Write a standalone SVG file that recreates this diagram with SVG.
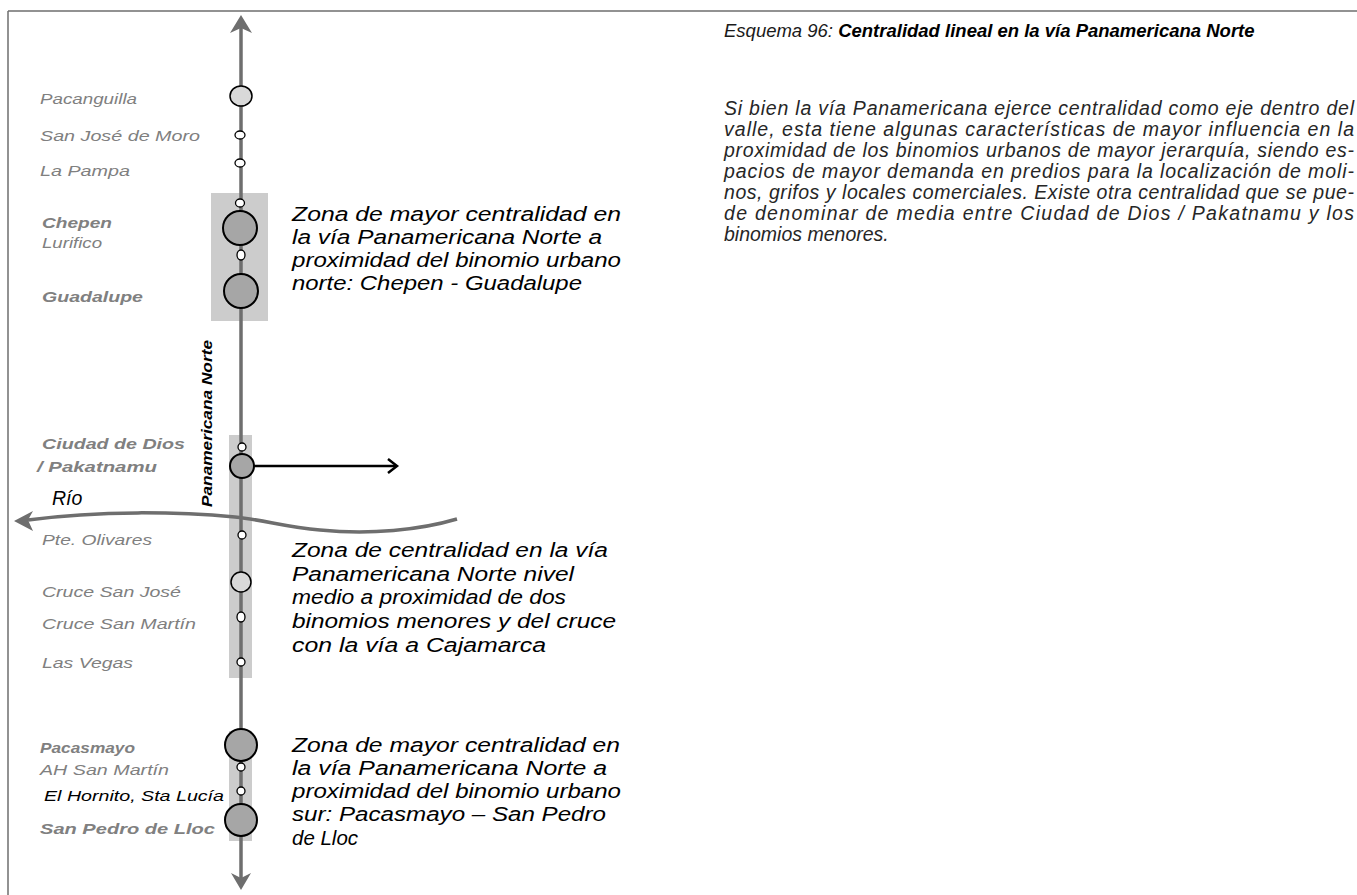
<svg xmlns="http://www.w3.org/2000/svg" width="1357" height="895" viewBox="0 0 1357 895">
<style>
.frame{stroke:#6e6e6e;stroke-width:1.5;fill:none}
.zonebox{fill:#cccccc}
.axis{stroke:#6e6e6e;stroke-width:3.5;fill:none}
.axhead{fill:#6e6e6e}
.big{fill:#a6a6a6;stroke:#000;stroke-width:2}
.mid{fill:#d9d9d9;stroke:#000;stroke-width:1.5}
.sm{fill:#ffffff;stroke:#000;stroke-width:1.3}
.lbl{font-family:"Liberation Sans",Arial,sans-serif;font-style:italic;font-size:14.5px;fill:#808080}
.b{font-weight:bold}
.blk{fill:#000}
.zone{font-family:"Liberation Sans",Arial,sans-serif;font-style:italic;font-size:19.5px;fill:#000}
.road{font-family:"Liberation Sans",Arial,sans-serif;font-style:italic;font-weight:bold;font-size:14px;fill:#000}
.title{font-family:"Liberation Sans",Arial,sans-serif;font-style:italic;font-size:18.5px;fill:#1a1a1a}
.para{font-family:"Liberation Sans",Arial,sans-serif;font-style:italic;font-size:19.5px;fill:#262626}
</style>

<g id="frame">
<line class="frame" x1="8" y1="11" x2="1357" y2="11"/>
<line class="frame" x1="8" y1="11" x2="8" y2="895"/>
</g>

<g id="zones">
<rect class="zonebox" x="211" y="193" width="57" height="128"/>
<rect class="zonebox" x="229" y="435" width="23" height="243"/>
<rect class="zonebox" x="229" y="731" width="23" height="110"/>
</g>

<g id="connectors">
<line class="axis" x1="241" y1="24" x2="241" y2="882"/>
<polygon class="axhead" points="241,15 252,33 241,28 230,33"/>
<polygon class="axhead" points="241,890 251,873 241,878 231,873"/>
<path class="axis" stroke-width="4" d="M457,519 C420,530 370,535 320,530 C285,527 265,520 235,517 C180,512 100,510 28,520"/>
<polygon class="axhead" points="14,521 33,511 28,520 33,531"/>
<line x1="254" y1="466" x2="396" y2="466" stroke="#000" stroke-width="2.5"/>
<polyline points="388,459 397,466 388,473" fill="none" stroke="#000" stroke-width="2.5"/>
</g>

<g id="road-label">
<text class="road" transform="translate(212,507) rotate(-90)" textLength="167" lengthAdjust="spacingAndGlyphs">Panamericana Norte</text>
</g>

<g id="pacanguilla"><ellipse class="mid" cx="241" cy="96" rx="11" ry="10"/><text class="lbl" x="40" y="104" textLength="97" lengthAdjust="spacingAndGlyphs">Pacanguilla</text></g>
<g id="san-jose-de-moro"><ellipse class="sm" cx="240" cy="135" rx="5" ry="4"/><text class="lbl" x="40" y="141" textLength="160" lengthAdjust="spacingAndGlyphs">San José de Moro</text></g>
<g id="la-pampa"><ellipse class="sm" cx="240" cy="163" rx="5" ry="4"/><text class="lbl" x="40" y="176" textLength="90" lengthAdjust="spacingAndGlyphs">La Pampa</text></g>
<g id="node-203"><ellipse class="sm" cx="240" cy="203" rx="4.5" ry="4"/></g>
<g id="chepen"><circle class="big" cx="240" cy="228" r="17"/><text class="lbl b" x="42" y="228" textLength="70" lengthAdjust="spacingAndGlyphs">Chepen</text></g>
<g id="lurifico"><ellipse class="sm" cx="241" cy="255" rx="4" ry="5"/><text class="lbl" x="42" y="248" textLength="60" lengthAdjust="spacingAndGlyphs">Lurifico</text></g>
<g id="guadalupe"><circle class="big" cx="241" cy="291" r="17"/><text class="lbl b" x="42" y="302" textLength="101" lengthAdjust="spacingAndGlyphs">Guadalupe</text></g>

<g id="node-447"><circle class="sm" cx="242" cy="447" r="4"/></g>
<g id="ciudad-de-dios"><circle class="big" cx="242" cy="466" r="12" stroke-width="4"/><text class="lbl b" x="42" y="449" textLength="143" lengthAdjust="spacingAndGlyphs">Ciudad de Dios</text><text class="lbl b" x="37" y="472" textLength="120" lengthAdjust="spacingAndGlyphs">/ Pakatnamu</text></g>
<g id="rio"><text class="zone" font-size="17" x="52" y="505">Río</text></g>
<g id="pte-olivares"><circle class="sm" cx="242" cy="535" r="4"/><text class="lbl" x="42" y="545" textLength="110" lengthAdjust="spacingAndGlyphs">Pte. Olivares</text></g>
<g id="cruce-san-jose"><circle class="mid" cx="241" cy="582" r="10"/><text class="lbl" x="42" y="597" textLength="139" lengthAdjust="spacingAndGlyphs">Cruce San José</text></g>
<g id="cruce-san-martin"><ellipse class="sm" cx="241" cy="617" rx="4" ry="5"/><text class="lbl" x="42" y="629" textLength="154" lengthAdjust="spacingAndGlyphs">Cruce San Martín</text></g>
<g id="las-vegas"><circle class="sm" cx="241" cy="662" r="4"/><text class="lbl" x="42" y="668" textLength="91" lengthAdjust="spacingAndGlyphs">Las Vegas</text></g>

<g id="pacasmayo"><circle class="big" cx="241" cy="745" r="16"/><text class="lbl b" x="40" y="753" textLength="95" lengthAdjust="spacingAndGlyphs">Pacasmayo</text></g>
<g id="ah-san-martin"><circle class="sm" cx="241" cy="767" r="4"/><text class="lbl" x="40" y="775" textLength="129" lengthAdjust="spacingAndGlyphs">AH San Martín</text></g>
<g id="el-hornito"><circle class="sm" cx="241" cy="791" r="4"/><text class="lbl blk" x="44" y="801" textLength="180" lengthAdjust="spacingAndGlyphs">El Hornito, Sta Lucía</text></g>
<g id="san-pedro-de-lloc"><circle class="big" cx="241" cy="820" r="16"/><text class="lbl b" x="40" y="834" textLength="175" lengthAdjust="spacingAndGlyphs">San Pedro de Lloc</text></g>

<g id="zone-note-1">
<text class="zone" x="292" y="221" textLength="329" lengthAdjust="spacingAndGlyphs">Zona de mayor centralidad en</text>
<text class="zone" x="292" y="244" textLength="310" lengthAdjust="spacingAndGlyphs">la vía Panamericana Norte a</text>
<text class="zone" x="292" y="267" textLength="329" lengthAdjust="spacingAndGlyphs">proximidad del binomio urbano</text>
<text class="zone" x="292" y="290" textLength="290" lengthAdjust="spacingAndGlyphs">norte: Chepen - Guadalupe</text>
</g>
<g id="zone-note-2">
<text class="zone" x="292" y="557" textLength="316" lengthAdjust="spacingAndGlyphs">Zona de centralidad en la vía</text>
<text class="zone" x="292" y="581" textLength="282" lengthAdjust="spacingAndGlyphs">Panamericana Norte nivel</text>
<text class="zone" x="292" y="604" textLength="274" lengthAdjust="spacingAndGlyphs">medio a proximidad de dos</text>
<text class="zone" x="292" y="628" textLength="324" lengthAdjust="spacingAndGlyphs">binomios menores y del cruce</text>
<text class="zone" x="292" y="652" textLength="254" lengthAdjust="spacingAndGlyphs">con la vía a Cajamarca</text>
</g>
<g id="zone-note-3">
<text class="zone" x="292" y="752" textLength="328" lengthAdjust="spacingAndGlyphs">Zona de mayor centralidad en</text>
<text class="zone" x="292" y="775" textLength="315" lengthAdjust="spacingAndGlyphs">la vía Panamericana Norte a</text>
<text class="zone" x="292" y="798" textLength="329" lengthAdjust="spacingAndGlyphs">proximidad del binomio urbano</text>
<text class="zone" x="292" y="821" textLength="314" lengthAdjust="spacingAndGlyphs">sur: Pacasmayo – San Pedro</text>
<text class="zone" x="292" y="845" textLength="66" lengthAdjust="spacingAndGlyphs">de Lloc</text>
</g>

<g id="caption">
<text class="title" x="724" y="37">Esquema 96: <tspan font-weight="bold" fill="#000">Centralidad lineal en la vía Panamericana Norte</tspan></text>
<text class="para" x="724" y="115" textLength="630" lengthAdjust="spacing">Si bien la vía Panamericana ejerce centralidad como eje dentro del</text>
<text class="para" x="724" y="136" textLength="630" lengthAdjust="spacing">valle, esta tiene algunas características de mayor influencia en la</text>
<text class="para" x="724" y="157" textLength="630" lengthAdjust="spacing">proximidad de los binomios urbanos de mayor jerarquía, siendo es-</text>
<text class="para" x="724" y="178" textLength="630" lengthAdjust="spacing">pacios de mayor demanda en predios para la localización de moli-</text>
<text class="para" x="724" y="199" textLength="630" lengthAdjust="spacing">nos, grifos y locales comerciales. Existe otra centralidad que se pue-</text>
<text class="para" x="724" y="220" textLength="630" lengthAdjust="spacing">de denominar de media entre Ciudad de Dios / Pakatnamu y los</text>
<text class="para" x="724" y="241">binomios menores.</text>
</g>
</svg>
